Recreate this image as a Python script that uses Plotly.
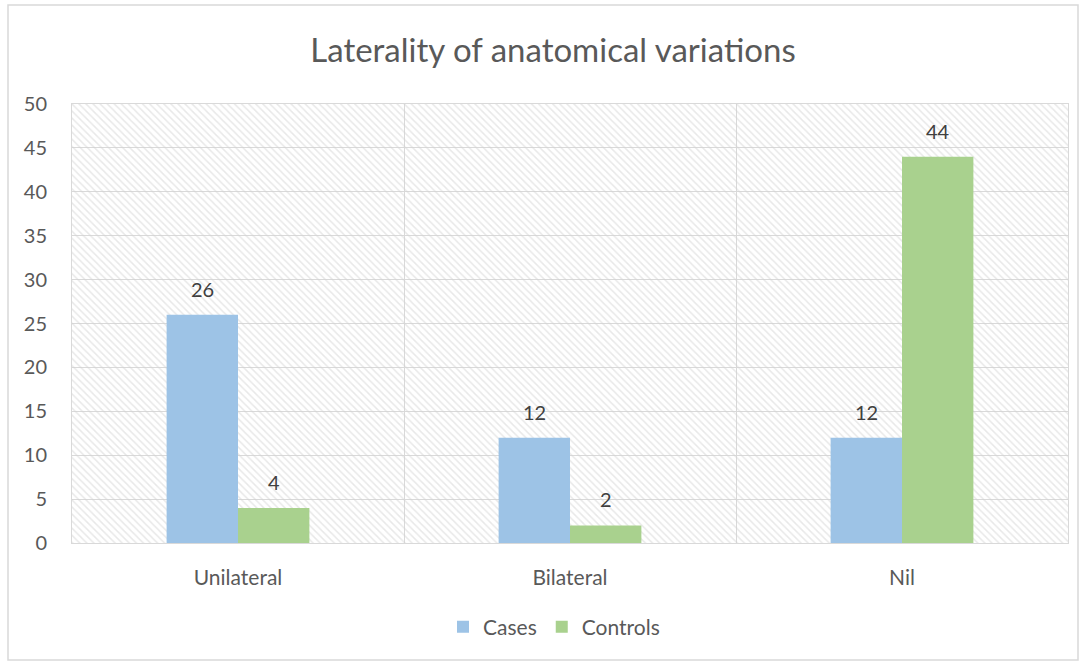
import plotly.graph_objects as go

categories = ["Unilateral", "Bilateral", "Nil"]
cases = [26, 12, 12]
controls = [4, 2, 44]
y_ticks = [0, 5, 10, 15, 20, 25, 30, 35, 40, 45, 50]
Y_MAX = 50

FONT = "Lato"
TXT = "#595959"
LBL = "#404040"
GRID = "#D9D9D9"

L, R, T, B = 72, 18, 104, 121
W, H = 1086, 664
pw, ph = W - L - R, H - T - B
BARGAP = 0.57

def px(x):
    return (x - L) / pw

def py(y):
    return (H - B - y) / ph

fig = go.Figure()

# hatched plot-area background (decoration on hidden base axis)
fig.add_trace(go.Bar(
    x=[0.5], y=[Y_MAX], width=[1], xaxis="x", yaxis="y",
    marker=dict(color="rgba(0,0,0,0)", line=dict(width=0),
                pattern=dict(shape="\\", fgcolor="#D2D2D2", bgcolor="rgba(0,0,0,0)",
                             size=5, solidity=0.3)),
    showlegend=False, hoverinfo="skip",
))

fig.add_trace(go.Bar(
    name="Cases", x=categories, y=cases, xaxis="x2", yaxis="y",
    marker=dict(color="#9DC3E6", line=dict(width=0)),
))
fig.add_trace(go.Bar(
    name="Controls", x=categories, y=controls, xaxis="x2", yaxis="y",
    marker=dict(color="#A9D18E", line=dict(width=0)),
))

# data labels above bars
cat_px = pw / len(categories)
half_bar = cat_px * (1 - BARGAP) / 4
annotations = []
for series, sign in ((cases, -1), (controls, 1)):
    for cat, v in zip(categories, series):
        annotations.append(dict(
            x=cat, y=v, xref="x2", yref="y", text=str(v), showarrow=False,
            xshift=sign * half_bar, yshift=12, yanchor="bottom",
            font=dict(size=20, color=LBL, family=FONT)))

fig.update_layout(
    width=W, height=H,
    margin=dict(l=L, r=R, t=T, b=B, pad=0),
    paper_bgcolor="white", plot_bgcolor="white",
    font=dict(family=FONT, color=TXT, size=20),
    barmode="group", bargap=BARGAP, bargroupgap=0,
    title=dict(text="Laterality of anatomical variations", x=px(553), xanchor="center",
               xref="paper", y=1 - 50 / H, yanchor="middle",
               font=dict(size=33, color=TXT, family=FONT)),
    xaxis=dict(range=[0, 1], visible=False, fixedrange=True),
    xaxis2=dict(overlaying="x", type="category", tickson="boundaries",
                showgrid=True, gridcolor=GRID, gridwidth=1,
                showline=True, linecolor=GRID, linewidth=1, mirror=True,
                ticks="", ticklabelstandoff=16,
                tickfont=dict(size=21, color=TXT, family=FONT)),
    yaxis=dict(range=[0, Y_MAX], tickvals=y_ticks, showgrid=True, gridcolor=GRID,
               gridwidth=1, zeroline=False, showline=True, linecolor=GRID,
               mirror=True, ticks="", ticklabelstandoff=20,
               tickfont=dict(size=20, color=TXT, family=FONT)),
    legend=dict(orientation="h", x=px(554), xanchor="center", y=py(627), yanchor="middle",
                font=dict(size=21, color=TXT, family=FONT), itemwidth=30,
                traceorder="normal"),
    annotations=annotations,
    shapes=[dict(type="rect", xref="paper", yref="paper",
                 x0=px(8), x1=px(1078), y0=py(660), y1=py(5),
                 line=dict(color=GRID, width=1.5), fillcolor="rgba(0,0,0,0)",
                 layer="below")],
)

fig.write_html("out.html", config={"displayModeBar": False},
               post_script="document.body.style.margin='0';document.body.style.padding='0';")
